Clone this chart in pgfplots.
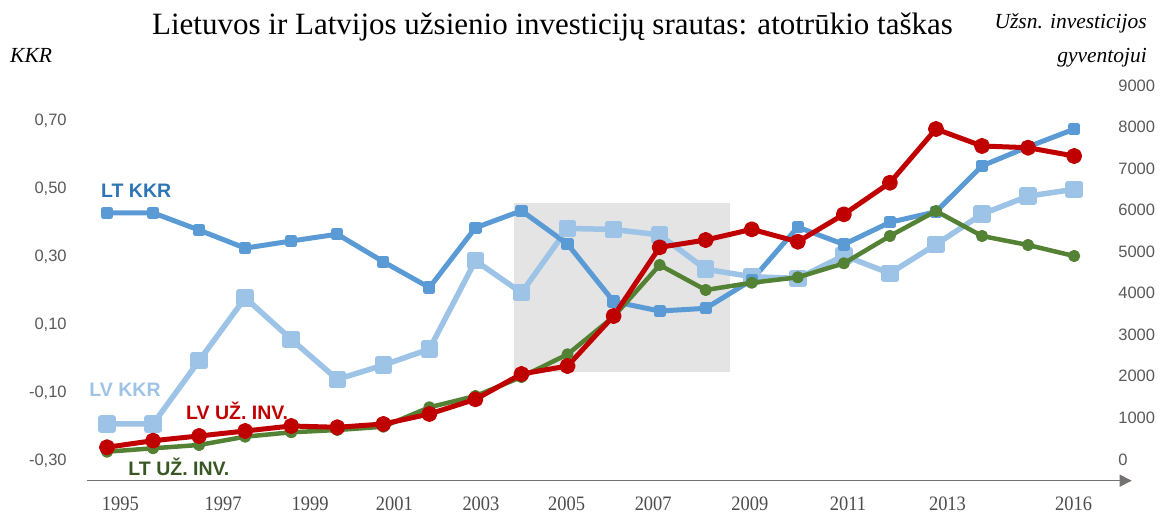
\documentclass[border=0pt]{standalone}
\usepackage{fontspec}
\setmainfont{Liberation Serif}
\newfontfamily\arial{Liberation Sans}
\newfontfamily\yearfont[FakeStretch=0.9]{Liberation Serif}
\usepackage{pgfplots}
\pgfplotsset{compat=1.18}
\usetikzlibrary{arrows.meta}
\definecolor{ltb}{HTML}{5B9BD5}
\definecolor{ltbt}{HTML}{2E75B6}
\definecolor{lvb}{HTML}{9DC3E6}
\definecolor{lvr}{HTML}{C00000}
\definecolor{ltg}{HTML}{548235}
\definecolor{ltgt}{HTML}{385723}
\definecolor{tickgray}{HTML}{595959}
\definecolor{axgray}{HTML}{767171}
\definecolor{shade}{HTML}{E4E4E4}
\pgfplotsset{base/.style={scale only axis, width=1045pt, height=395.4pt,
  xmin=1994.559, xmax=2017.25, at={(0,0)}, anchor=south west,
  tick style={draw=none}, y axis line style={draw=none}}}
\begin{document}
\begin{tikzpicture}
\path[use as bounding box] (-86.7pt,-32.3pt) rectangle (1076.3pt,480.7pt);
\begin{axis}[base, ymin=-0.363, ymax=0.80,
  axis x line=bottom, axis y line=left,
  x axis line style={draw=axgray, line width=1.3pt, -{Triangle[length=12pt,width=12pt]}},
  xtick={1995.29,1997.52,1999.41,2001.24,2003.12,2004.98,2006.86,2008.96,2011.09,2013.25,2015.99},
  xticklabels={1995,1997,1999,2001,2003,2005,2007,2009,2011,2013,2016},
  xticklabel style={font=\yearfont\fontsize{20.5}{20.5}\selectfont, text=black!70, anchor=north, inner sep=0pt, yshift=-14pt, text depth=0pt},
  ytick={-0.3,-0.1,0.1,0.3,0.5,0.7},
  yticklabels={{-0,30},{-0,10},{0,10},{0,30},{0,50},{0,70}},
  yticklabel style={font=\arial\fontsize{16.5}{16.5}\selectfont, text=tickgray, anchor=east, inner sep=0pt, xshift=-17.7pt, text depth=0pt},
  line join=round]
\addplot[draw=none, fill=shade] coordinates {(2003.84,-0.0424) (2008.53,-0.0424) (2008.53,0.455) (2003.84,0.455)} -- cycle;
% LV KKR
\addplot[lvb, line width=5.5pt, mark=square*, mark size=6pt] coordinates {
(1995,-0.196) (1996,-0.196) (1997,-0.010) (1998,0.175) (1999,0.053) (2000,-0.065)
(2001,-0.023) (2002,0.024) (2003,0.284) (2004,0.190) (2005,0.379) (2006,0.376)
(2007,0.360) (2008,0.259) (2009,0.237) (2010,0.232) (2011,0.299) (2012,0.247)
(2013,0.332) (2014,0.421) (2015,0.474) (2016,0.494)};
% LT KKR
\addplot[ltb, line width=5pt, mark=square*, mark size=3.6pt] coordinates {
(1995,0.425) (1996,0.425) (1997,0.374) (1998,0.321) (1999,0.342) (2000,0.362)
(2001,0.281) (2002,0.205) (2003,0.381) (2004,0.431) (2005,0.333) (2006,0.164)
(2007,0.136) (2008,0.144) (2009,0.227) (2010,0.383) (2011,0.332) (2012,0.397)
(2013,0.428) (2014,0.563) (2015,0.619) (2016,0.671)};
\end{axis}
\begin{axis}[base, ymin=-515, ymax=9000,
  axis x line=none, axis y line=right,
  ytick={0,1000,2000,3000,4000,5000,6000,7000,8000,9000},
  yticklabels={0,1000,2000,3000,4000,5000,6000,7000,8000,9000},
  yticklabel style={font=\arial\fontsize{16.5}{16.5}\selectfont, text=tickgray, anchor=west, inner sep=0pt, xshift=-15.7pt, text depth=0pt},
  line join=round]
% LT UZ INV
\addplot[ltg, line width=4.5pt, mark=*, mark size=3.8pt] coordinates {
(1995,183) (1996,265) (1997,344) (1998,544) (1999,650) (2000,705)
(2001,784) (2002,1251) (2003,1523) (2004,1980) (2005,2526) (2006,3431)
(2007,4675) (2008,4074) (2009,4249) (2010,4379) (2011,4716) (2012,5373)
(2013,5974) (2014,5373) (2015,5156) (2016,4892)};
% LV UZ INV
\addplot[lvr, line width=5pt, mark=*, mark size=5.5pt] coordinates {
(1995,289) (1996,448) (1997,561) (1998,681) (1999,801) (2000,770)
(2001,849) (2002,1090) (2003,1444) (2004,2052) (2005,2245) (2006,3448)
(2007,5101) (2008,5277) (2009,5534) (2010,5236) (2011,5895) (2012,6655)
(2013,7948) (2014,7539) (2015,7498) (2016,7298)};
\end{axis}
\node[anchor=base, inner sep=0pt, font=\fontsize{31}{31}\selectfont] at (465.8pt,446.4pt) {Lietuvos ir Latvijos užsienio investicijų srautas: atotrūkio taškas};
\node[anchor=base west, inner sep=0pt, font=\itshape\fontsize{21.5}{21.5}\selectfont] at (-76.7pt,418pt) {KKR};
\node[anchor=base east, inner sep=0pt, font=\itshape\fontsize{21.5}{21.5}\selectfont] at (1060.3pt,452.4pt) {Užsn. investicijos};
\node[anchor=base east, inner sep=0pt, font=\itshape\fontsize{21.5}{21.5}\selectfont] at (1060.3pt,418pt) {gyventojui};
\node[anchor=base west, inner sep=0pt, text=ltbt, font=\arial\bfseries\fontsize{19.5}{19.5}\selectfont] at (14.3pt,283.4pt) {LT KKR};
\node[anchor=base west, inner sep=0pt, text=lvb, font=\arial\bfseries\fontsize{19.5}{19.5}\selectfont] at (2.6pt,84pt) {LV KKR};
\node[anchor=base west, inner sep=0pt, text=lvr, font=\arial\bfseries\fontsize{19.5}{19.5}\selectfont] at (99.3pt,61.4pt) {LV UŽ. INV.};
\node[anchor=base west, inner sep=0pt, text=ltgt, font=\arial\bfseries\fontsize{19.5}{19.5}\selectfont] at (41.6pt,4.7pt) {LT UŽ. INV.};
\end{tikzpicture}
\end{document}
